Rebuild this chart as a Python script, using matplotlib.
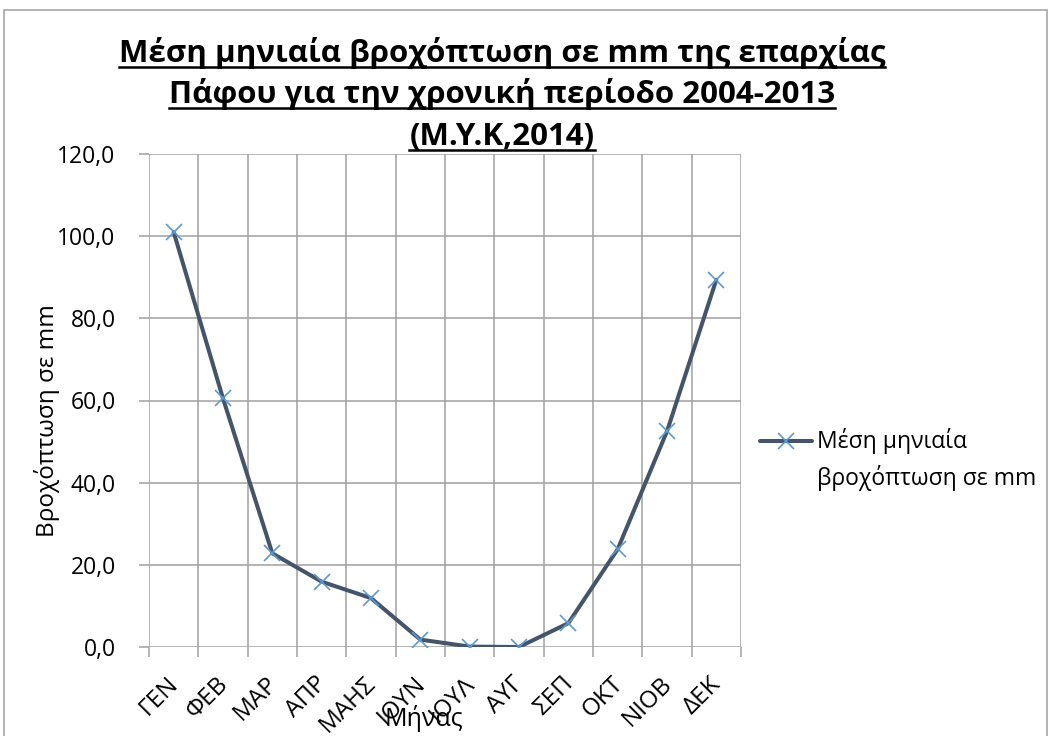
import matplotlib
matplotlib.use("Agg")
import matplotlib.pyplot as plt
from matplotlib.patches import Rectangle
from matplotlib.lines import Line2D
import matplotlib.transforms as mtransforms
import numpy as np

months = ["ΓΕΝ", "ΦΕΒ", "ΜΑΡ", "ΑΠΡ", "ΜΑΗΣ", "ΙΟΥΝ", "ΙΟΥΛ", "ΑΥΓ", "ΣΕΠ", "ΟΚΤ", "ΝΙΟΒ", "ΔΕΚ"]
rainfall = [101.0, 60.5, 22.8, 15.9, 11.9, 1.8, 0.1, 0.0, 5.8, 23.8, 52.5, 89.4]
y_ticks = [0, 20, 40, 60, 80, 100, 120]
title_lines = ["Μέση μηνιαία βροχόπτωση σε mm της επαρχίας",
               "Πάφου για την χρονική περίοδο 2004-2013",
               "(Μ.Υ.Κ,2014)"]
series_lines = ["Μέση μηνιαία", "βροχόπτωση σε mm"]
x_label = "Μήνας"
y_label = "Βροχόπτωση σε mm"

plt.rcParams['font.family'] = ['Open Sans', 'DejaVu Sans']

W, H = 1051, 736
fig = plt.figure(figsize=(W / 100, H / 100), dpi=100)

# chart area border
fig.patches.append(Rectangle((4 / W, -0.01), (1047 - 4) / W, 1 - 10 / H + 0.01,
                             transform=fig.transFigure, fill=False,
                             edgecolor='#A6A6A6', lw=1.2))

ax = fig.add_axes([149 / W, 1 - 647 / H, (741 - 149) / W, (647 - 154) / H])
x = np.arange(len(months))
grid_c = '#A0A0A0'
ax.set_xlim(-0.5, len(months) - 0.5)
ax.set_ylim(0, 120)
for b in np.arange(-0.5, len(months), 1.0):
    ax.axvline(b, color=grid_c, lw=1.1, zorder=1)
for yt in y_ticks:
    ax.axhline(yt, color=grid_c, lw=1.1, zorder=1)
for s in ax.spines.values():
    s.set_visible(False)

ax.plot(x, rainfall, color='#44546A', lw=2.9, zorder=3,
        marker='x', markersize=11, markeredgecolor='#5B9BD5',
        markeredgewidth=1.2, solid_joinstyle='round', solid_capstyle='round')

ax.set_yticks(y_ticks)
ax.set_yticklabels([f"{v:.1f}".replace('.', ',') for v in y_ticks], fontsize=16.5)
ax.tick_params(axis='y', length=7, color=grid_c, pad=17, width=1.1)
ax.set_xticks(np.arange(-0.5, len(months), 1.0), minor=False)
ax.set_xticklabels([])
ax.tick_params(axis='x', length=7, color=grid_c, width=1.1)
ax.set_xticks(x, minor=True)
ax.set_xticklabels(months, minor=True, rotation=45, ha='right', va='top',
                   rotation_mode='anchor', fontsize=17.5)
ax.tick_params(axis='x', which='minor', length=0, pad=15)
shift = mtransforms.ScaledTranslation(-7 / 100, -4 / 100, fig.dpi_scale_trans)
for lab in ax.get_xticklabels(minor=True):
    lab.set_transform(lab.get_transform() + shift)

fig.text(47 / W, 1 - 421 / H, y_label, ha='center', va='center', rotation=90,
         fontsize=17.5)
fig.text(424 / W, 1 - 718 / H, x_label, ha='center', va='center', fontsize=18)

# legend
fig.add_artist(Line2D([760 / W, 812 / W], [1 - 441 / H, 1 - 441 / H],
                      transform=fig.transFigure, color='#44546A', lw=2.9,
                      solid_capstyle='round'))
fig.add_artist(Line2D([786 / W], [1 - 441 / H], transform=fig.transFigure,
                      marker='x', markersize=11, markeredgecolor='#5B9BD5',
                      markeredgewidth=1.2, linestyle='none'))
for t, yc in zip(series_lines, [441, 478]):
    fig.text(817 / W, 1 - yc / H, t, ha='left', va='center', fontsize=16.5)

# title with underline
renderer = fig.canvas.get_renderer()
baselines = [62, 103, 145]
for t, yb in zip(title_lines, baselines):
    txt = fig.text(502 / W, 1 - yb / H, t, ha='center', va='baseline',
                   fontsize=22.5, fontweight='bold')
    bb = txt.get_window_extent(renderer)
    yl = (H - yb - 5)
    fig.add_artist(Line2D([bb.x0 / W, bb.x1 / W], [yl / H, yl / H],
                          transform=fig.transFigure, color='black', lw=1.8))

fig.savefig("out.png", dpi=100)
